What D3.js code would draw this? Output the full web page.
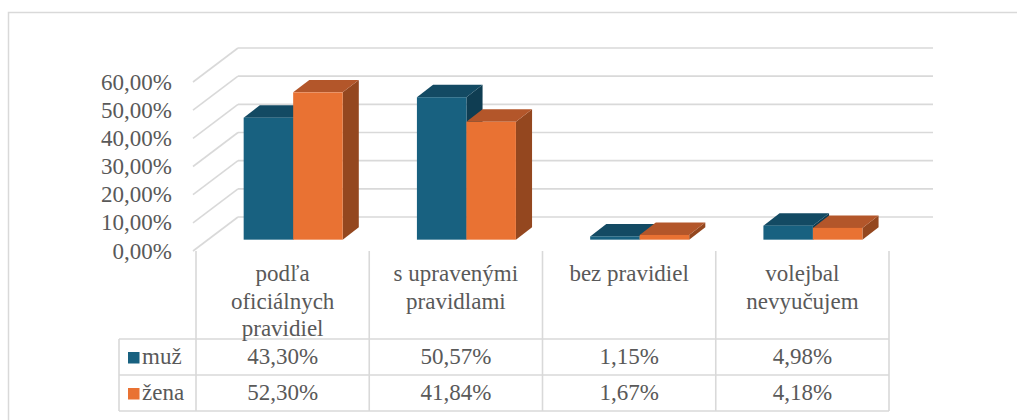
<!DOCTYPE html>
<html>
<head>
<meta charset="utf-8">
<script src="https://cdn.jsdelivr.net/npm/d3@7"></script>
</head>
<body style="margin:0">
<svg width="1017" height="420"></svg>
<script>
// data
let categories = ["podľa\noficiálnych\npravidiel", "s upravenými\npravidlami", "bez pravidiel", "volejbal\nnevyučujem"];
let seriesNames = ["muž", "žena"];
let muz = [0.433, 0.5057, 0.0115, 0.0498];
let zena = [0.523, 0.4184, 0.0167, 0.0418];
let yTicks = [0, 0.1, 0.2, 0.3, 0.4, 0.5, 0.6];

let width = 1017;
let height = 420;
let textColor = "#595959";
let fontName = ["Liberation", "Serif"].join(" ");

let colors = {
  "muž": { front: "#186180", top: "#134a63", side: "#0f3d52" },
  "žena": { front: "#e97233", top: "#b3562a", side: "#94471f" },
};

let sk = d3.formatLocale({ decimal: ",", thousands: " ", grouping: [3], currency: ["", " €"] });
let pct = sk.format(".2%");

let svg = d3.select("svg");

function styleText(sel) {
  return sel
    .style("font-family", `'${fontName}'`)
    .style("font-size", "23px")
    .style("fill", textColor);
}

// outer frame (cut by the picture on right/bottom)
svg.append("path")
  .attr("d", `M8.5,${height + 5} V12.5 H${width + 5}`)
  .style("fill", "none")
  .style("stroke", "#d9d9d9")
  .style("stroke-width", 1.5);

let x0 = d3.scaleBand().domain(categories).range([196, 889]);
let x1 = d3.scaleBand().domain(seriesNames).range([33, 132]);
let y = d3.scaleLinear().domain([0, 0.6]).range([251, 82]);

// depth of the 3d box and of the bars
let dx = 44, dy = -34;
let dFront = 1 / 3, dBack = 0.7;

let left = x0.range()[0];
let right = x0.range()[1];

let grid = svg.append("g").style("stroke", "#d9d9d9").style("stroke-width", 1.6).style("fill", "none");
grid.selectAll(".back")
  .data(yTicks)
  .join("line")
  .attr("x1", left + dx - 2)
  .attr("x2", right + dx)
  .attr("y1", (d) => y(d) + dy)
  .attr("y2", (d) => y(d) + dy);
grid.selectAll(".side")
  .data(yTicks)
  .join("line")
  .attr("x1", left - 3)
  .attr("x2", left + dx - 2)
  .attr("y1", (d) => y(d))
  .attr("y2", (d) => y(d) + dy);

svg.append("g")
  .selectAll("text")
  .data(yTicks)
  .join("text")
  .attr("x", 172)
  .attr("y", (d) => y(d) + 7.5)
  .attr("text-anchor", "end")
  .call(styleText)
  .text((d) => pct(d));

// bars
let rows = [];
categories.forEach((c, i) => {
  rows.push({ cat: c, key: "muž", value: muz[i] });
  rows.push({ cat: c, key: "žena", value: zena[i] });
});

let fx = dx * dFront, fy = dy * dFront;
let bx = dx * (dBack - dFront), by = dy * (dBack - dFront);

let bars = svg.append("g")
  .selectAll("g")
  .data(rows)
  .join("g");

function corners(d) {
  let xl = x0(d.cat) + x1(d.key) + fx;
  let xr = xl + x1.bandwidth();
  let yb = y(0) + fy;
  let yt = y(d.value) + fy;
  return { xl, xr, yb, yt };
}

bars.append("path")
  .attr("d", (d) => {
    let c = corners(d);
    return `M${c.xr},${c.yb} L${c.xr + bx},${c.yb + by} L${c.xr + bx},${c.yt + by} L${c.xr},${c.yt} Z`;
  })
  .style("fill", (d) => colors[d.key].side);

bars.append("path")
  .attr("d", (d) => {
    let c = corners(d);
    return `M${c.xl},${c.yt} L${c.xl + bx},${c.yt + by} L${c.xr + bx},${c.yt + by} L${c.xr},${c.yt} Z`;
  })
  .style("fill", (d) => colors[d.key].top);

bars.append("rect")
  .attr("x", (d) => corners(d).xl)
  .attr("y", (d) => corners(d).yt)
  .attr("width", x1.bandwidth())
  .attr("height", (d) => corners(d).yb - corners(d).yt)
  .style("fill", (d) => colors[d.key].front);

// data table under the plot
let rowLines = [339, 375, 411];
let tableLeft = 119;

let table = svg.append("g").style("stroke", "#d9d9d9").style("stroke-width", 1.6);
table.selectAll(".h")
  .data(rowLines)
  .join("line")
  .attr("x1", tableLeft)
  .attr("x2", right)
  .attr("y1", (d) => d)
  .attr("y2", (d) => d);
table.selectAll(".v")
  .data(categories.concat(["end"]))
  .join("line")
  .attr("x1", (d, i) => (i < categories.length ? x0(d) : right))
  .attr("x2", (d, i) => (i < categories.length ? x0(d) : right))
  .attr("y1", y(0))
  .attr("y2", rowLines[2]);
table.append("line")
  .attr("x1", tableLeft)
  .attr("x2", tableLeft)
  .attr("y1", rowLines[0])
  .attr("y2", rowLines[2]);

let header = svg.append("g")
  .selectAll("text")
  .data(categories)
  .join("text")
  .attr("text-anchor", "middle")
  .call(styleText);

header.selectAll("tspan")
  .data((d) => d.split("\n").map((t) => ({ t, cat: d })))
  .join("tspan")
  .attr("x", (d) => x0(d.cat) + x0.bandwidth() / 2)
  .attr("y", (d, i) => 281 + i * 27.5)
  .text((d) => d.t);

let seriesValues = [muz, zena];
seriesNames.forEach((name, r) => {
  let yMid = (rowLines[r] + rowLines[r + 1]) / 2;
  svg.append("rect")
    .attr("x", 128)
    .attr("y", yMid - 5)
    .attr("width", 11.5)
    .attr("height", 11.5)
    .style("fill", colors[name].front);
  svg.append("text")
    .attr("x", 142)
    .attr("y", yMid + 7)
    .call(styleText)
    .text(name);
  svg.append("g")
    .selectAll("text")
    .data(seriesValues[r])
    .join("text")
    .attr("x", (d, i) => x0(categories[i]) + x0.bandwidth() / 2)
    .attr("y", yMid + 7)
    .attr("text-anchor", "middle")
    .call(styleText)
    .text((d) => pct(d));
});
</script>
</body>
</html>
